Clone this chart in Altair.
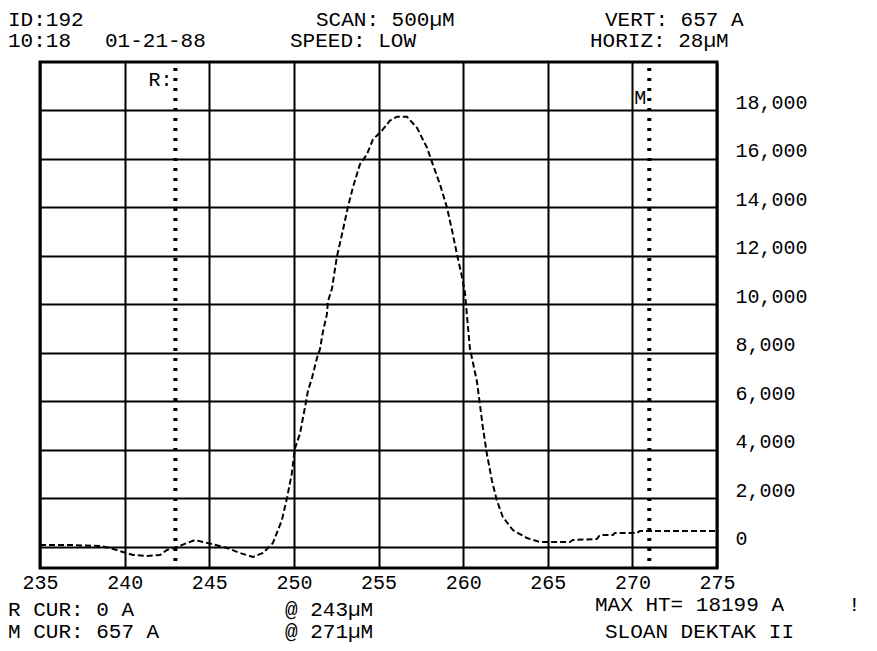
import altair as alt
import pandas as pd

# ---- profile trace (scan position in um, height in Angstrom) ----
scan_um = [235.0, 236.77, 238.54, 239.13, 239.90, 240.49, 241.32, 242.09, 242.50, 243.09,
           243.68, 244.16, 244.63, 245.16, 246.05, 246.81, 247.58, 248.17, 248.76, 249.29,
           249.59, 249.88, 250.06, 250.36, 250.65, 250.83, 251.07, 251.36, 251.54, 251.72,
           251.95, 252.01, 252.25, 252.54, 252.90, 253.19, 253.49, 253.90, 254.31, 254.67,
           255.20, 255.67, 256.09, 256.68, 257.27, 257.86, 258.21, 258.63, 259.04, 259.34,
           259.63, 259.93, 260.10, 260.22, 260.40, 260.81, 260.99, 261.17, 261.40, 261.70,
           261.99, 262.35, 262.94, 263.77, 264.53, 266.31, 266.48, 267.90, 268.08, 268.85,
           268.96, 270.26, 270.44, 275.0]
height_A = [82, 82, 41, -41, -205, -328, -369, -328, -123, 0,
            164, 287, 205, 123, -41, -246, -410, -246, 164, 1106,
            2008, 3033, 4057, 4672, 5737, 6434, 6967, 7786, 8155, 8893,
            9589, 10122, 10655, 11966, 13073, 14015, 14835, 15777, 16187, 16802,
            17169, 17580, 17744, 17744, 17294, 16474, 15777, 14958, 14015, 13073,
            12089, 11147, 10532, 9589, 8196, 6844, 5901, 4918, 3852, 2746,
            1926, 1229, 697, 369, 205, 205, 287, 328, 492, 492,
            574, 574, 656, 656]

x_ticks = [235, 240, 245, 250, 255, 260, 265, 270, 275]
y_ticks = [0, 2000, 4000, 6000, 8000, 10000, 12000, 14000, 16000, 18000]

cursor_names = ["R:", "M"]
cursor_pos = [243, 271]

header_texts = ["ID:192", "SCAN: 500µM", "VERT: 657 A",
                "10:18", "01-21-88", "SPEED: LOW", "HORIZ: 28µM"]
footer_texts = ["R CUR: 0 A", "@ 243µM", "MAX HT= 18199 A", "!",
                "M CUR: 657 A", "@ 271µM", "SLOAN DEKTAK II"]

# layout (pixels relative to plot origin) kept apart from the data
header_xy = [(-32, -42), (276, -42), (565, -42),
             (-32, -21), (65, -21), (250, -21), (550, -21)]
footer_xy = [(-32, 548), (245, 548), (555, 543), (808, 543),
             (-32, 570), (245, 570), (565, 570)]
cursor_label_y = [18, 36]

FONT = "Liberation Mono"
FS = 20
FS_TXT = 21

trace_df = pd.DataFrame({"scan": scan_um, "height": height_A})

xscale = alt.Scale(domain=[235, 275], nice=False, zero=False)
yscale = alt.Scale(domain=[-866, 20000], nice=False, zero=False)

trace = alt.Chart(trace_df).mark_line(
    color="black", strokeWidth=2, strokeDash=[6, 3], interpolate="linear"
).encode(
    x=alt.X("scan:Q", scale=xscale,
            axis=alt.Axis(values=x_ticks, format="d", title=None, grid=True,
                          gridColor="black", gridWidth=2, gridOpacity=1,
                          ticks=False, domain=False, labelFont=FONT,
                          labelFontSize=FS, labelColor="black", labelPadding=4,
                          labelFlush=False, labelOverlap=False)),
    y=alt.Y("height:Q", scale=yscale,
            axis=alt.Axis(orient="right", values=y_ticks, format=",d", title=None,
                          grid=True, gridColor="black", gridWidth=2, gridOpacity=1,
                          ticks=False, domain=False, labelFont=FONT,
                          labelFontSize=FS, labelColor="black", labelPadding=18,
                          labelBaseline="alphabetic", labelOffset=-2,
                          labelFlush=False, labelOverlap=False)),
)

cur_df = pd.DataFrame({"name": cursor_names, "pos": cursor_pos, "ly": cursor_label_y})

cursors = alt.Chart(cur_df).mark_rule(
    color="black", strokeWidth=4, strokeDash=[3, 7]
).encode(
    x=alt.X("pos:Q", scale=xscale),
    y=alt.value(6),
    y2=alt.value(506),
)

cursor_labels = alt.Chart(cur_df).mark_text(
    font=FONT, fontSize=FS, color="black", align="right", baseline="middle", dx=-3
).encode(
    x=alt.X("pos:Q", scale=xscale),
    y=alt.Y("ly:Q", scale=None),
    text="name:N",
)

layers = [trace, cursors, cursor_labels]

for s, (px, py) in zip(header_texts + footer_texts, header_xy + footer_xy):
    layers.append(
        alt.Chart(pd.DataFrame({"t": [s]})).mark_text(
            font=FONT, fontSize=FS_TXT, color="black", align="left", baseline="middle"
        ).encode(x=alt.value(px), y=alt.value(py), text="t:N")
    )

chart = alt.layer(*layers).properties(
    width=677, height=506,
    padding={"left": 32, "top": 54, "right": 152, "bottom": 75},
    autosize=alt.AutoSizeParams(type="none"),
    background="white",
).configure_view(stroke="black", strokeWidth=3)

chart.save("out.html", embed_options={"renderer": "svg", "actions": False})
